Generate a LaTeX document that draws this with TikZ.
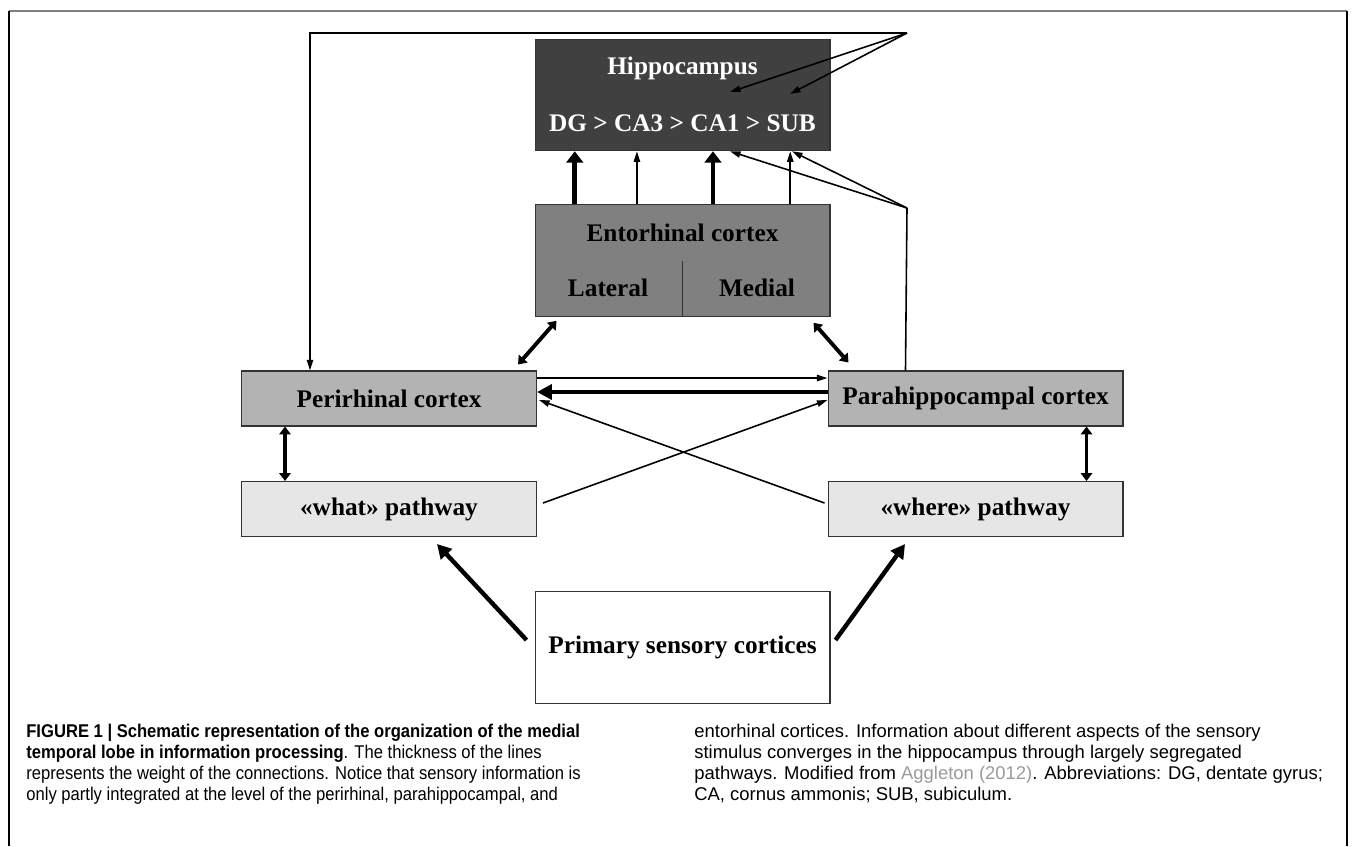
\documentclass[tikz,border=0pt]{standalone}
\usepackage{fontspec}
\setmainfont{Liberation Serif}
\newfontfamily\capfont{Liberation Sans}[FakeStretch=0.9]
\newfontfamily\capwidefont{Liberation Sans}[FakeStretch=1.0]
\usetikzlibrary{arrows.meta,calc}
\definecolor{hipfill}{HTML}{404040}
\definecolor{entofill}{HTML}{808080}
\definecolor{cortfill}{HTML}{B3B3B3}
\definecolor{pathfill}{HTML}{E6E6E6}
\definecolor{framegray}{HTML}{808080}
\definecolor{refgray}{HTML}{9A9A9A}
\begin{document}
\begin{tikzpicture}[x=0.02cm,y=-0.02cm,
    box/.style={draw=black!80, line width=0.6pt, inner sep=0pt,
      minimum width=5.9cm, minimum height=1.1cm},
    bigbox/.style={box, minimum height=2.23cm},
    lbl/.style={inner sep=0pt, font=\bfseries\fontsize{14.4}{16}\selectfont},
    thinarrow/.style={line width=0.9pt, -{Triangle[length=6pt,width=3.6pt]}},
    thickarrow/.style={line width=2.7pt, -{Triangle[length=6.5pt,width=9.5pt]}},
    dblarrow/.style={line width=2.2pt, {Triangle[length=4.5pt,width=6.5pt]}-{Triangle[length=4.5pt,width=6.5pt]}},
    caption/.style={inner sep=0pt, align=left, font=\capfont\fontsize{10.5}{11.95}\selectfont}]
  \useasboundingbox (0,0) rectangle (1355,846);

  % frame
  \draw[framegray, line width=1.2pt] (9,11) -- (1347,11);
  \draw[line width=0.9pt] (9,11) -- (9,846);
  \draw[line width=0.9pt] (1347,11) -- (1347,846);

  % boxes
  \node[bigbox, fill=hipfill] (hip) at (682.5,95) {};
  \node[bigbox, fill=entofill] (ento) at (682.5,260.5) {};
  \node[box, fill=cortfill] (peri) at (389,398.5) {};
  \node[box, fill=cortfill] (para) at (975.5,398.5) {};
  \node[box, fill=pathfill] (what) at (389,509) {};
  \node[box, fill=pathfill] (where) at (975.5,509) {};
  \node[bigbox, fill=white] (prim) at (682.5,647.5) {};
  \draw[black!80, line width=0.6pt] (ento.center) -- (ento.south);

  % labels
  \node[lbl, white] (hiptitle) at ([yshift=0.54cm]hip.center) {Hippocampus};
  \node[lbl, white] (hipchain) at ([yshift=-0.56cm]hip.center) {DG > CA3 > CA1 > SUB};
  \node[lbl] (entotitle) at ([yshift=0.55cm]ento.center) {Entorhinal cortex};
  \node[lbl] (lateral) at ([xshift=-1.49cm,yshift=-0.55cm]ento.center) {Lateral};
  \node[lbl] (medial) at ([xshift=1.49cm,yshift=-0.55cm]ento.center) {Medial};
  \node[lbl] (peritext) at (peri.center) {Perirhinal cortex};
  \node[lbl] (paratext) at (para.center) {Parahippocampal cortex};
  \node[lbl] (whattext) at (what.center) {«what» pathway};
  \node[lbl] (wheretext) at (where.center) {«where» pathway};
  \node[lbl] (primtext) at (prim.center) {Primary sensory cortices};

  % entorhinal to hippocampus
  \foreach \f/\s in {0.136/thickarrow,0.346/thinarrow,0.603/thickarrow,0.864/thinarrow} {
      \draw[\s] ($(ento.north west)!\f!(ento.north east)$) -- ($(hip.south west)!\f!(hip.south east)$);
    }

  % top feedback from perirhinal
  \coordinate (topfork) at (907,33);
  \draw[thinarrow] (topfork) -- ([xshift=1.38cm]peri.north west |- topfork) -- ([xshift=1.38cm]peri.north west);
  \draw[thinarrow] (topfork) -- ([xshift=0.95cm,yshift=0.06cm]hip.center);
  \draw[thinarrow] (topfork) -- ([xshift=2.15cm,yshift=0.02cm]hip.center);

  % feedback from parahippocampal
  \coordinate (botfork) at (907,208);
  \draw[line width=0.9pt] ([xshift=1.56cm]para.north west) -- (botfork);
  \draw[thinarrow] (botfork) -- ([xshift=0.95cm]hip.south);
  \draw[thinarrow] (botfork) -- ([xshift=2.19cm]hip.south);

  % entorhinal to cortices
  \draw[dblarrow] ([xshift=0.44cm,yshift=-0.08cm]ento.south west) -- ([xshift=-0.38cm,yshift=0.12cm]peri.north east);
  \draw[dblarrow] ([xshift=-0.34cm,yshift=-0.12cm]ento.south east) -- ([xshift=0.42cm,yshift=0.16cm]para.north west);

  % perirhinal and parahippocampal
  \draw[thinarrow] ([yshift=0.41cm]peri.east) -- ([yshift=0.41cm]para.west);
  \draw[line width=2.7pt, -{Triangle[length=8.5pt,width=8.5pt]}] ([yshift=0.13cm]para.west) -- ([yshift=0.13cm]peri.east);
  \draw[thinarrow] ([xshift=0.12cm,yshift=0.12cm]what.east) -- ([yshift=-0.03cm]para.west);
  \draw[thinarrow] ([xshift=-0.06cm,yshift=0.12cm]where.west) -- ([xshift=0.04cm,yshift=-0.03cm]peri.east);

  % pathways
  \draw[dblarrow] ([xshift=0.88cm]peri.south west) -- ([xshift=0.88cm]what.north west);
  \draw[dblarrow] ([xshift=-0.74cm]para.south east) -- ([xshift=-0.74cm]where.north east);
  \draw[line width=2.5pt, -{Triangle[length=8pt,width=8.5pt]}] ([xshift=-0.16cm,yshift=0.15cm]prim.west) -- ([xshift=0.96cm,yshift=-0.14cm]what.south);
  \draw[line width=2.5pt, -{Triangle[length=8pt,width=8.5pt]}] ([xshift=0.1cm,yshift=0.15cm]prim.east) -- ([xshift=-1.41cm,yshift=-0.14cm]where.south);

  % caption
  \node[caption, anchor=north west] (capleft) at (26,724) {\textbf{FIGURE 1 | Schematic representation of the organization of the medial}\\
    \textbf{temporal lobe in information processing}. The thickness of the lines\\
    represents the weight of the connections. Notice that sensory information is\\
    only partly integrated at the level of the perirhinal, parahippocampal, and};
  \node[caption, font=\capwidefont\fontsize{10.5}{11.95}\selectfont, anchor=north west] (capright) at (694,724) {entorhinal cortices. Information about different aspects of the sensory\\
    stimulus converges in the hippocampus through largely segregated\\
    pathways. Modified from \textcolor{refgray}{Aggleton (2012)}. Abbreviations: DG, dentate gyrus;\\
    CA, cornus ammonis; SUB, subiculum.};
\end{tikzpicture}
\end{document}
